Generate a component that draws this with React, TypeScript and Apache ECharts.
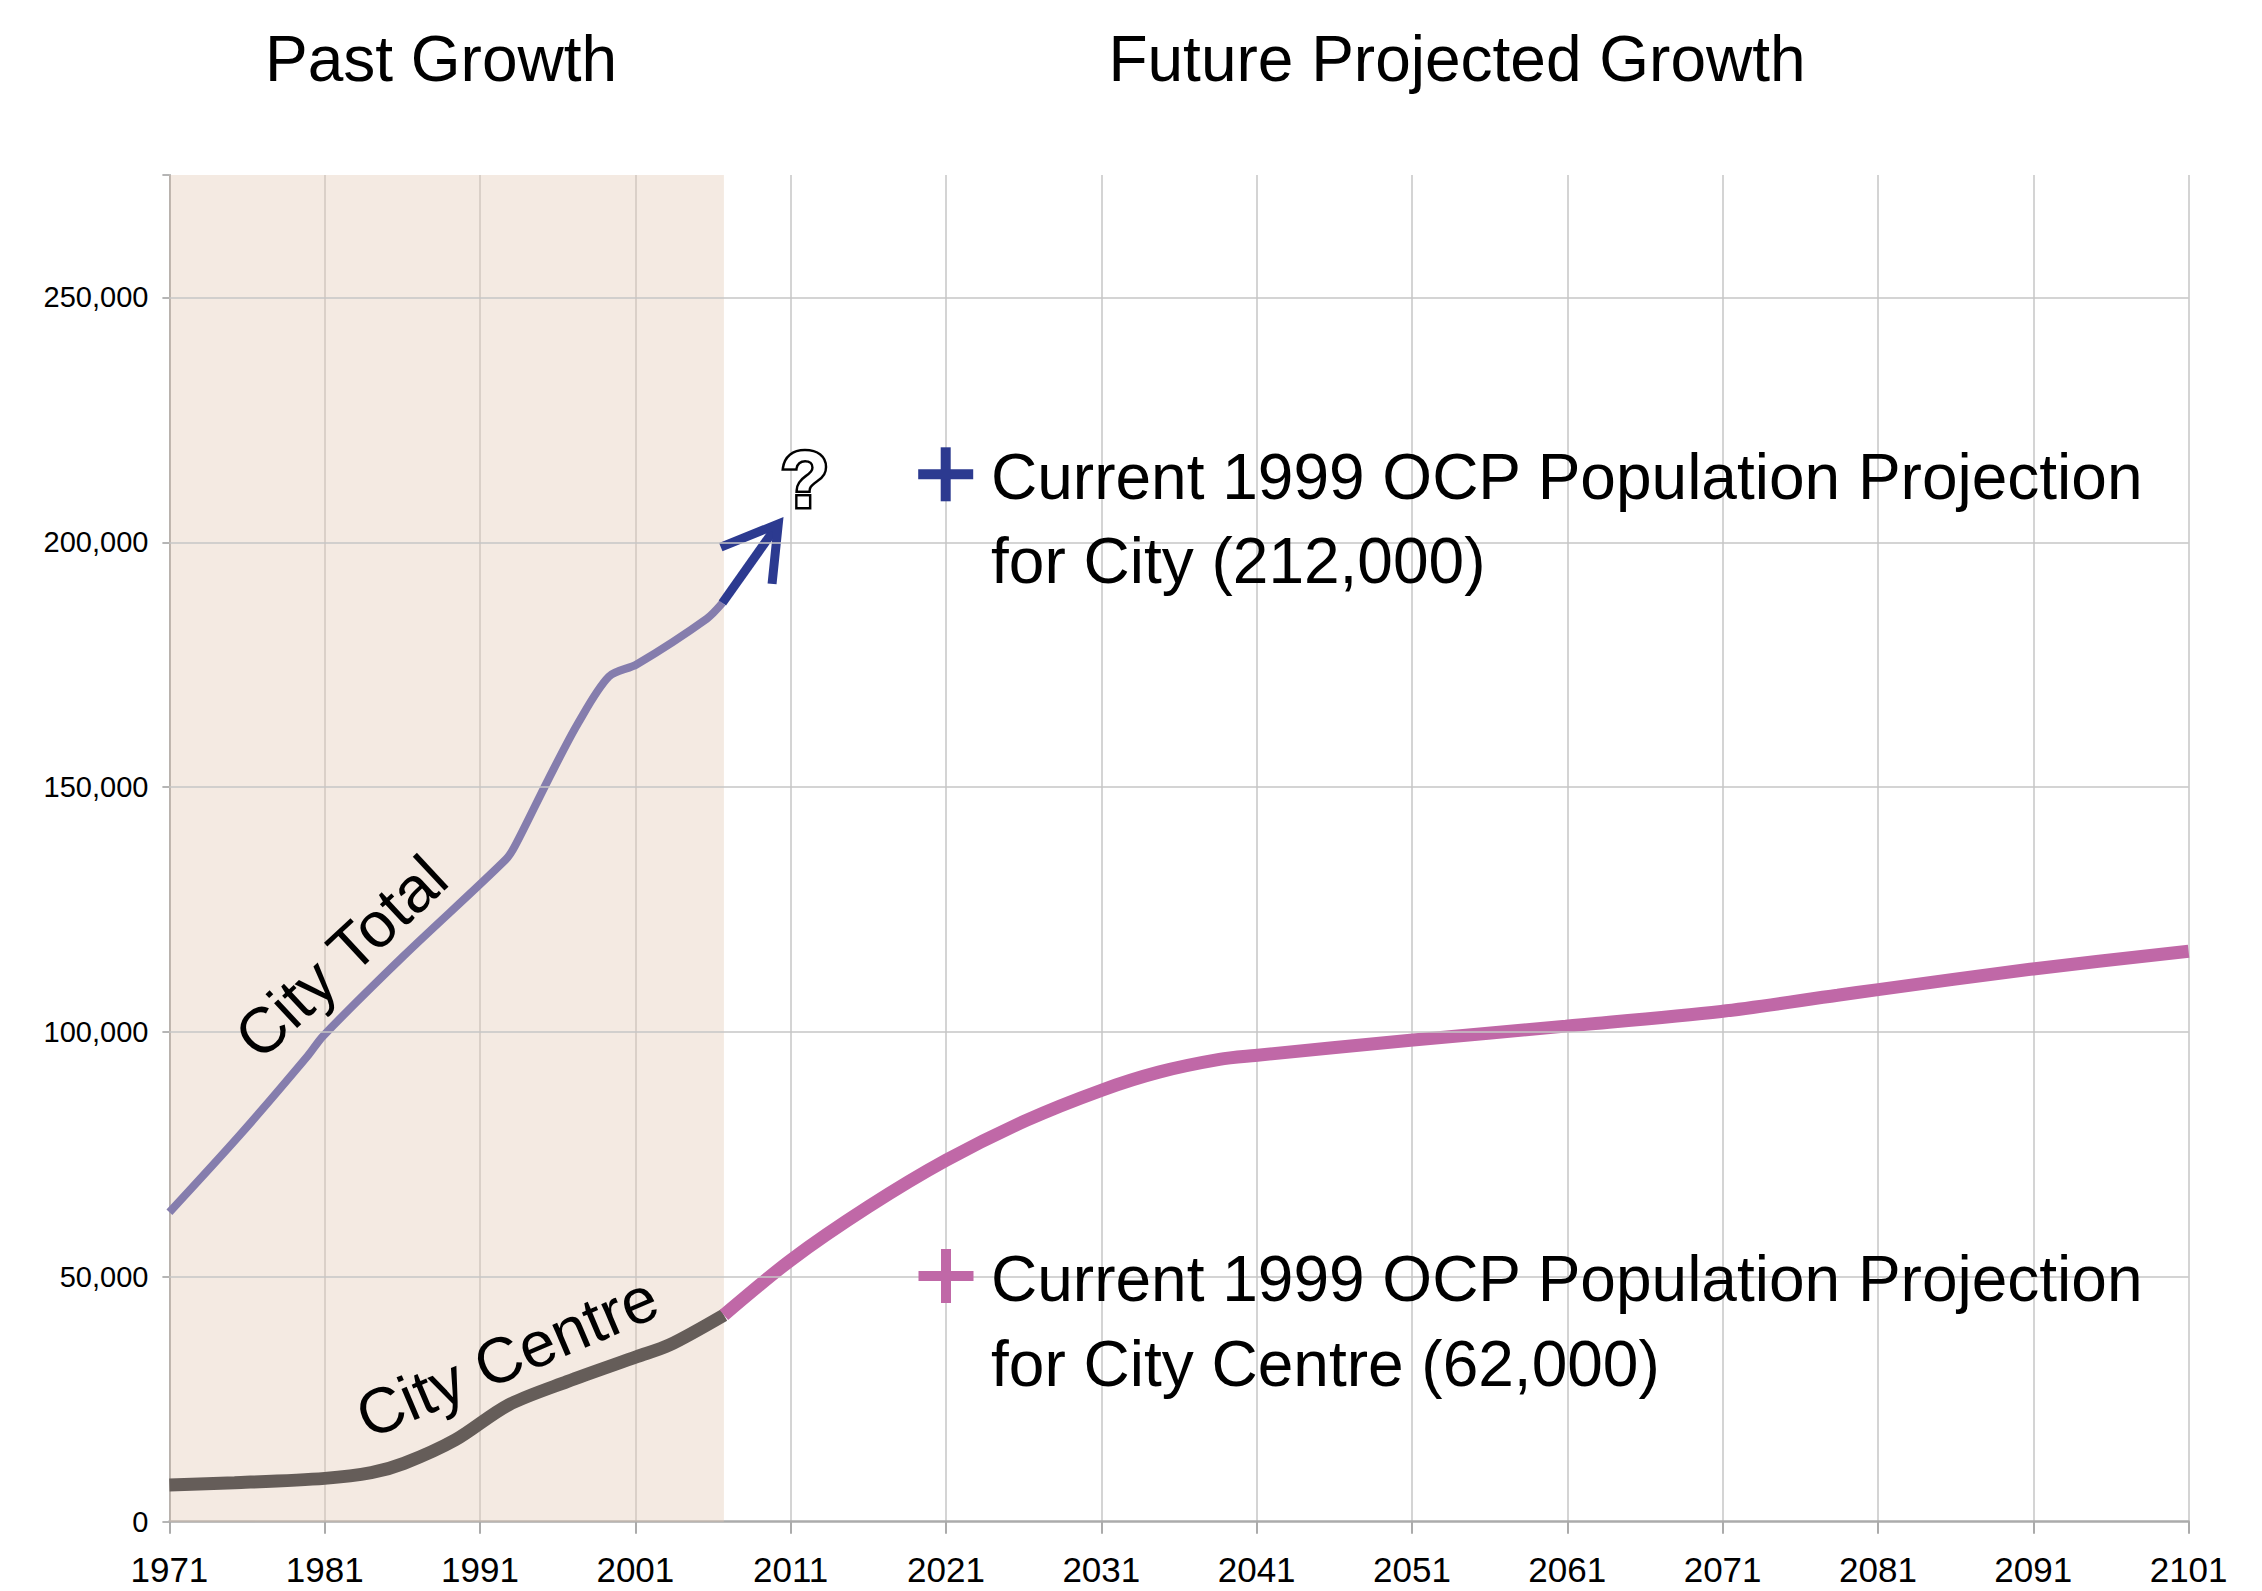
import React, { useEffect, useRef } from 'react';
import * as echarts from 'echarts';

// ---- data ----
const cityTotalYears = [1971, 1975.6, 1979.9, 1980.9, 1986.1, 1992.65, 1993.25, 1995.4, 1997.3, 1999.3, 2001.1, 2005.6, 2006.6];
const cityTotalValues = [63200, 79200, 95100, 99200, 115600, 135200, 138000, 151600, 163000, 172600, 175100, 184400, 187600];

const cityCentreYears = [1971, 1975.2, 1981, 1984, 1986.1, 1989.4, 1992.8, 1996.6, 2001.1, 2003.2, 2006.7];
const cityCentreValues = [7500, 7950, 8850, 10000, 11900, 16700, 23800, 28600, 33700, 36100, 42200];

const projectionYears = [2006.7, 2011, 2016, 2021, 2026.2, 2031, 2034.7, 2038.6, 2040.9, 2050.9, 2060.9, 2070.9, 2078.4, 2080.9, 2090.8, 2101];
const projectionValues = [42200, 53400, 64300, 73800, 82000, 88100, 91800, 94400, 95200, 98300, 101200, 104200, 107500, 108600, 112800, 116500];

const arrowShaftYears = [2006.6, 2010.2];
const arrowShaftValues = [187600, 203750];
const arrowHeadYears = [2006.5, 2010.2, 2009.8];
const arrowHeadValues = [199000, 203750, 191500];

const pastPeriod = [1971, 2006.7];
const yGridValues = [50000, 100000, 150000, 200000, 250000];

const xMin = 1971;
const xMax = 2101;
const xStep = 10;
const yMin = 0;
const yMax = 275000;
const yStep = 50000;

const titles = ['Past Growth', 'Future Projected Growth'];
const cityNote = ['Current 1999 OCP Population Projection', 'for City (212,000)'];
const centreNote = ['Current 1999 OCP Population Projection', 'for City Centre (62,000)'];

const pair = (xs: number[], ys: number[]) => xs.map((x, i) => [x, ys[i]]);

const FONT = "'Liberation Sans', Arial, Helvetica, sans-serif";

function txt(text: string, x: number, y: number, size: number, extra: any = {}, styleExtra: any = {}) {
  return {
    type: 'text',
    x,
    y,
    z: 100,
    silent: true,
    ...extra,
    style: {
      text,
      fill: '#000',
      fontSize: size,
      fontFamily: FONT,
      textAlign: 'left',
      align: 'left',
      textVerticalAlign: 'middle',
      verticalAlign: 'middle',
      ...styleExtra,
    },
  };
}

function plus(cx: number, cy: number, color: string) {
  return [
    { type: 'rect', z: 100, silent: true, shape: { x: cx - 5, y: cy - 27, width: 10, height: 54 }, style: { fill: color } },
    { type: 'rect', z: 100, silent: true, shape: { x: cx - 27.5, y: cy - 5, width: 55, height: 10 }, style: { fill: color } },
  ];
}

export default function App() {
  const ref = useRef<HTMLDivElement>(null);

  useEffect(() => {
    const chart = echarts.init(ref.current as HTMLDivElement, null, { renderer: 'svg' });

    const option: any = {
      animation: false,
      backgroundColor: '#ffffff',
      grid: { left: 169.4, right: 73.4, top: 175, bottom: 69.3, containLabel: false },
      xAxis: {
        type: 'value',
        min: xMin,
        max: xMax,
        interval: xStep,
        axisLine: { show: true, onZero: false, lineStyle: { color: '#ababab', width: 2.5 } },
        axisTick: { show: true, length: 12, lineStyle: { color: '#ababab', width: 2 } },
        axisLabel: {
          formatter: (v: number) => String(v),
          fontSize: 35,
          lineHeight: 28,
          color: '#000',
          fontFamily: FONT,
          margin: 34,
        },
        splitLine: { show: true, lineStyle: { color: '#c6c6c6', width: 1.5 } },
      },
      yAxis: {
        type: 'value',
        min: yMin,
        max: yMax,
        interval: yStep,
        axisLine: { show: true, lineStyle: { color: '#ababab', width: 2 } },
        axisTick: { show: true, length: 7, lineStyle: { color: '#b5b5b5', width: 2 } },
        axisLabel: {
          formatter: (v: number) => (v % yStep === 0 ? v.toLocaleString('en-US') : ''),
          fontSize: 29,
          color: '#000',
          fontFamily: FONT,
          margin: 21,
        },
        splitLine: { show: false },
      },
      series: [
        {
          type: 'line',
          name: 'gridlines',
          data: [],
          z: 1,
          silent: true,
          markLine: {
            silent: true,
            symbol: ['none', 'none'],
            label: { show: false },
            emphasis: { disabled: true },
            lineStyle: { color: '#c6c6c6', width: 1.5, type: 'solid' },
            data: yGridValues.map((v) => ({ yAxis: v })),
          },
        },
        {
          type: 'line',
          name: 'past',
          data: [],
          z: 2,
          silent: true,
          markArea: {
            silent: true,
            emphasis: { disabled: true },
            itemStyle: { color: 'rgba(228,203,182,0.4)' },
            data: [[{ xAxis: pastPeriod[0] }, { xAxis: pastPeriod[1] }]],
          },
        },
        {
          type: 'line',
          name: 'City Total',
          data: pair(cityTotalYears, cityTotalValues),
          smooth: 0.3,
          symbol: 'none',
          z: 3,
          silent: true,
          lineStyle: { color: '#857dad', width: 8 },
        },
        {
          type: 'line',
          name: 'Arrow shaft',
          data: pair(arrowShaftYears, arrowShaftValues),
          symbol: 'none',
          z: 4,
          silent: true,
          lineStyle: { color: '#2c3a90', width: 9, cap: 'butt' },
        },
        {
          type: 'line',
          name: 'Arrow head',
          data: pair(arrowHeadYears, arrowHeadValues),
          symbol: 'none',
          z: 4,
          silent: true,
          lineStyle: { color: '#2c3a90', width: 9, cap: 'butt', join: 'miter' },
        },
        {
          type: 'line',
          name: 'City Centre',
          data: pair(cityCentreYears, cityCentreValues),
          smooth: 0.3,
          symbol: 'none',
          z: 3,
          silent: true,
          lineStyle: { color: '#655d59', width: 13 },
        },
        {
          type: 'line',
          name: 'Projection',
          data: pair(projectionYears, projectionValues),
          smooth: 0.3,
          symbol: 'none',
          z: 3,
          silent: true,
          lineStyle: { color: '#c068a7', width: 13 },
        },
      ],
      graphic: [
        txt(titles[0], 441, 59, 64, {}, { textAlign: 'center', align: 'center' }),
        txt(titles[1], 1457, 59, 64, {}, { textAlign: 'center', align: 'center' }),
        ...plus(945.7, 474.3, '#2c3a90'),
        txt(cityNote[0], 991, 477, 64),
        txt(cityNote[1], 991, 561, 64),
        ...plus(946, 1276, '#c068a7'),
        txt(centreNote[0], 991, 1279, 64),
        txt(centreNote[1], 991, 1364, 64),
        txt('?', 805, 479, 80, {}, {
          textAlign: 'center',
          align: 'center',
          fontWeight: 'bold',
          fill: '#ffffff',
          stroke: '#000000',
          lineWidth: 5,
        }),
        txt('City Total', 341, 957, 64, { rotation: (43 * Math.PI) / 180 }, { textAlign: 'center', align: 'center' }),
        txt('City Centre', 507, 1357, 64, { rotation: (23 * Math.PI) / 180 }, { textAlign: 'center', align: 'center' }),
      ],
    };

    chart.setOption(option);
    return () => chart.dispose();
  }, []);

  return (
    <div
      ref={ref}
      style={{ position: 'absolute', left: 0, top: 0, width: 2262, height: 1591 }}
    />
  );
}
